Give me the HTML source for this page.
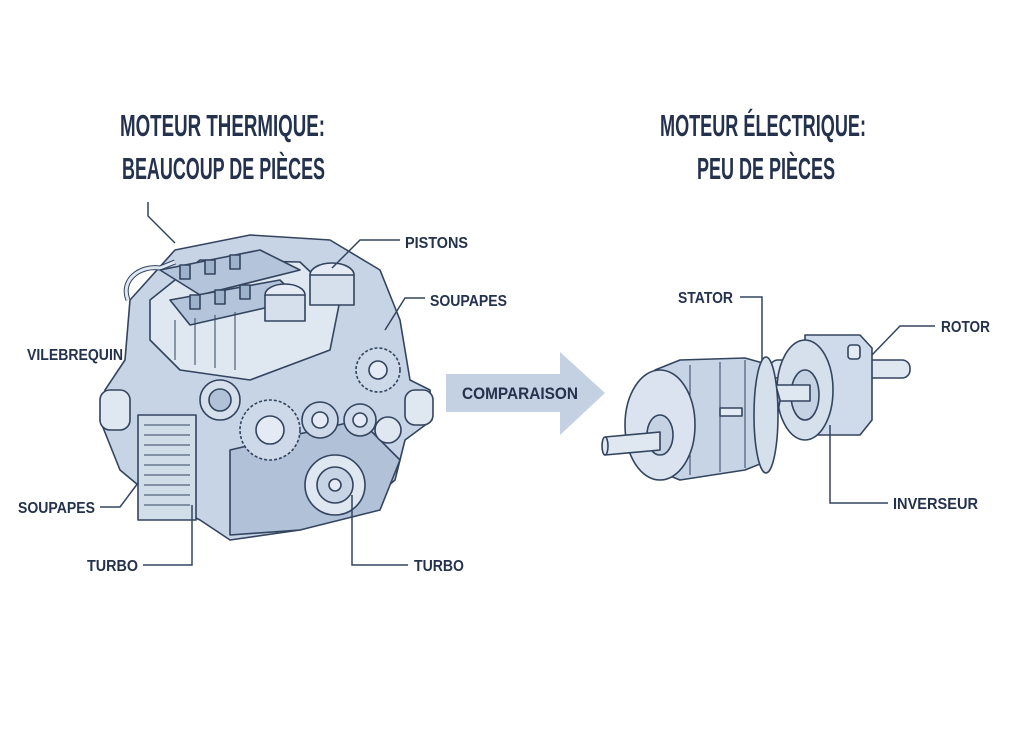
<!DOCTYPE html>
<html><head><meta charset="utf-8"><style>
html,body{margin:0;padding:0;background:#fff}
svg{display:block}
text{font-family:"Liberation Sans Narrow","Liberation Sans",sans-serif;font-weight:bold;fill:#24324d}
</style></head><body>
<svg width="1024" height="747" viewBox="0 0 1024 747" xmlns="http://www.w3.org/2000/svg">
<rect width="1024" height="747" fill="#fff"/>
<text x="120" y="136" font-size="31" textLength="205" lengthAdjust="spacingAndGlyphs">MOTEUR THERMIQUE:</text>
<text x="122" y="179" font-size="31" textLength="203" lengthAdjust="spacingAndGlyphs">BEAUCOUP DE PIÈCES</text>
<text x="660" y="136" font-size="31" textLength="206" lengthAdjust="spacingAndGlyphs">MOTEUR ÉLECTRIQUE:</text>
<text x="697" y="179" font-size="31" textLength="138" lengthAdjust="spacingAndGlyphs">PEU DE PIÈCES</text>

<g stroke="#33445f" stroke-width="1.6" stroke-linejoin="round">
<path d="M130 300 L175 250 L250 235 L330 240 L380 270 L400 320 L410 380 L430 390 L432 420 L405 440 L395 480 L360 510 L300 530 L230 540 L200 520 L150 495 L120 470 L100 420 L105 390 L125 360 Z" fill="#c7d4e6"/>
<path d="M128 300 C120 280 140 265 160 268 L175 262" fill="none" stroke-width="5" stroke="#33445f"/>
<path d="M128 300 C120 280 140 265 160 268 L175 262" fill="none" stroke-width="3" stroke="#dfe7f1"/>
<path d="M150 300 L200 260 L300 262 L340 300 L330 350 L250 380 L180 370 L150 340 Z" fill="#dfe7f1"/>
<path d="M160 270 L260 250 L300 270 L200 295 Z" fill="#b4c4da"/>
<path d="M170 300 L280 280 L300 300 L190 325 Z" fill="#b4c4da"/>
<g fill="#9fb2cc">
<rect x="180" y="265" width="10" height="14"/><rect x="205" y="260" width="10" height="14"/><rect x="230" y="255" width="10" height="14"/>
<rect x="190" y="295" width="10" height="14"/><rect x="215" y="290" width="10" height="14"/><rect x="240" y="285" width="10" height="14"/>
</g>
<g stroke-width="1">
<line x1="175" y1="320" x2="175" y2="360"/><line x1="195" y1="318" x2="195" y2="365"/><line x1="215" y1="315" x2="215" y2="368"/><line x1="235" y1="312" x2="235" y2="370"/>
</g>
<path d="M230 450 L360 420 L400 460 L380 510 L300 530 L230 535 Z" fill="#b0c1d8"/>
<rect x="138" y="415" width="58" height="105" fill="#d2ddea"/>
<g stroke-width="1">
<line x1="144" y1="425" x2="190" y2="425"/><line x1="144" y1="435" x2="190" y2="435"/><line x1="144" y1="445" x2="190" y2="445"/><line x1="144" y1="455" x2="190" y2="455"/><line x1="144" y1="465" x2="190" y2="465"/><line x1="144" y1="475" x2="190" y2="475"/><line x1="144" y1="485" x2="190" y2="485"/><line x1="144" y1="495" x2="190" y2="495"/><line x1="144" y1="505" x2="190" y2="505"/>
</g>
<ellipse cx="332" cy="275" rx="22" ry="12" fill="#e4ebf4"/>
<rect x="310" y="275" width="44" height="30" fill="#d6e0ec"/>
<ellipse cx="285" cy="295" rx="20" ry="11" fill="#e4ebf4"/>
<rect x="265" y="295" width="40" height="26" fill="#d6e0ec"/>
<circle cx="220" cy="400" r="20" fill="#d6e0ec"/><circle cx="220" cy="400" r="11" fill="#b0c1d8"/>
<circle cx="270" cy="430" r="30" fill="#cdd9e8" stroke-dasharray="3 2"/><circle cx="270" cy="430" r="14" fill="#e4ebf4"/>
<circle cx="320" cy="420" r="18" fill="#cdd9e8"/><circle cx="320" cy="420" r="8" fill="#e4ebf4"/>
<circle cx="360" cy="420" r="16" fill="#cdd9e8"/><circle cx="360" cy="420" r="7" fill="#e4ebf4"/>
<circle cx="378" cy="370" r="22" fill="#cdd9e8" stroke-dasharray="3 2"/><circle cx="378" cy="370" r="9" fill="#e4ebf4"/>
<circle cx="388" cy="430" r="13" fill="#dfe7f1"/>
<circle cx="335" cy="485" r="30" fill="#dfe7f1"/><circle cx="335" cy="485" r="18" fill="#c7d4e6"/><circle cx="335" cy="485" r="6" fill="#e4ebf4"/>
<rect x="100" y="390" width="30" height="40" rx="10" fill="#dfe7f1"/>
<rect x="405" y="390" width="28" height="35" rx="10" fill="#dfe7f1"/>
</g>

<path d="M446 374 L560 374 L560 352 L605 393 L560 435 L560 412 L446 412 Z" fill="#c3d1e2"/>
<text x="462" y="399" font-size="17" textLength="116" lengthAdjust="spacingAndGlyphs">COMPARAISON</text>

<g stroke="#33445f" stroke-width="1.6" stroke-linejoin="round">
<rect x="770" y="360" width="140" height="18" rx="8" fill="#dfe7f1"/>
<path d="M805 335 L860 335 L872 348 L872 420 L860 435 L805 435 Z" fill="#cfdbea"/>
<ellipse cx="805" cy="390" rx="28" ry="50" fill="#d6e0ec"/>
<ellipse cx="805" cy="395" rx="14" ry="25" fill="#c4d2e4"/>
<rect x="848" y="345" width="12" height="14" rx="3" fill="#e4ebf4"/>
<rect x="700" y="385" width="110" height="16" fill="#dfe7f1"/>
<path d="M655 370 L680 360 L745 358 L770 365 L780 400 L770 460 L745 470 L680 480 L655 470 Z" fill="#c7d4e6"/>
<g stroke-width="1"><line x1="690" y1="365" x2="690" y2="475"/><line x1="720" y1="362" x2="720" y2="472"/><line x1="745" y1="360" x2="745" y2="468"/></g>
<ellipse cx="766" cy="415" rx="12" ry="58" fill="#d6e0ec"/>
<rect x="720" y="408" width="22" height="8" fill="#e4ebf4"/>
<ellipse cx="660" cy="425" rx="35" ry="55" fill="#dae3ef"/>
<ellipse cx="660" cy="435" rx="13" ry="20" fill="#c4d2e4"/>
<path d="M605 437 L660 432 L660 450 L605 455 Z" fill="#dfe7f1"/>
<ellipse cx="605" cy="446" rx="3" ry="9" fill="#dfe7f1"/>
</g>

<g stroke="#33445f" stroke-width="1.5" fill="none">
<polyline points="148,202 148,216 175,243"/>
<polyline points="400,240 360,240 332,268"/>
<polyline points="425,298 405,298 385,330"/>
<polyline points="100,507 120,507 138,483"/>
<polyline points="143,565 192,565 192,505"/>
<polyline points="408,565 352,565 352,495"/>
<polyline points="740,297 762,297 762,360"/>
<polyline points="935,326 900,326 872,355"/>
<polyline points="888,503 830,503 830,425"/>
</g>

<g font-size="16">
<text x="405" y="248" textLength="63" lengthAdjust="spacingAndGlyphs">PISTONS</text>
<text x="430" y="306" textLength="77" lengthAdjust="spacingAndGlyphs">SOUPAPES</text>
<text x="27" y="360" textLength="96" lengthAdjust="spacingAndGlyphs">VILEBREQUIN</text>
<text x="18" y="513" textLength="77" lengthAdjust="spacingAndGlyphs">SOUPAPES</text>
<text x="87" y="571" textLength="51" lengthAdjust="spacingAndGlyphs">TURBO</text>
<text x="414" y="571" textLength="50" lengthAdjust="spacingAndGlyphs">TURBO</text>
<text x="678" y="303" textLength="55" lengthAdjust="spacingAndGlyphs">STATOR</text>
<text x="941" y="332" textLength="49" lengthAdjust="spacingAndGlyphs">ROTOR</text>
<text x="893" y="509" textLength="85" lengthAdjust="spacingAndGlyphs">INVERSEUR</text>
</g>
</svg>
</body></html>
